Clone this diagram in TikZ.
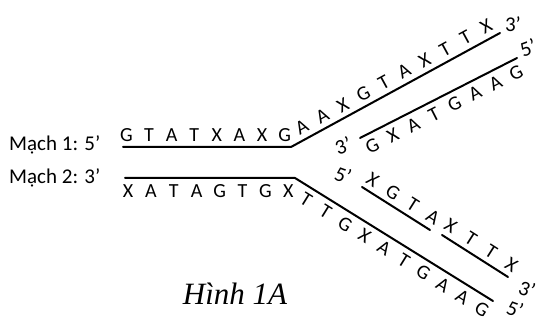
\documentclass[tikz,border=0pt]{standalone}
\usepackage{fontspec}
\setmainfont{Carlito}
\newfontfamily\titlefont{Liberation Serif}
\begin{document}
\begin{tikzpicture}[x=1pt, y=-1pt, strand/.style={line width=2pt, line cap=round, line join=round},
    base/.style={inner sep=0pt, text height=12.9pt, text depth=0pt, font=\fontsize{20}{24}\selectfont},
    tag/.style={inner sep=0pt, font=\fontsize{21}{24}\selectfont}]

    \useasboundingbox (0,0) rectangle (536,320);

    % strand ends and corners
    \coordinate (s1a) at (123,147);
    \coordinate (s1b) at (291,147);
    \coordinate (s1c) at (500,33);
    \coordinate (s2a) at (125,178);
    \coordinate (s2b) at (295,178);
    \coordinate (s2c) at (493,301);
    \coordinate (c1a) at (360,138);
    \coordinate (c1b) at (517,58);
    \coordinate (c2a) at (362,187);
    \coordinate (c2b) at (430,230);
    \coordinate (c2c) at (442,235);
    \coordinate (c2d) at (508,277);

    \draw[strand] (s1a) -- (s1b) -- (s1c);
    \draw[strand] (s2a) -- (s2b) -- (s2c);
    \draw[strand] (c1a) -- (c1b);
    \draw[strand] (c2a) -- (c2b);
    \draw[strand] (c2c) -- (c2d);

    % bases
    \foreach \b [count=\i] in {G,T,A,T,X,A,X,G}
        \path (s1a) -- (s1b) node[base, sloped, above=5.5pt, pos={(3.5+(\i-1)*22.6)/168}] {\b};
    \foreach \b [count=\i] in {A,A,X,G,T,A,X,T,T,X}
        \path (s1b) -- (s1c) node[base, sloped, above=5.5pt, pos={(19.1+(\i-1)*23.3)/238.1}] {\b};
    \foreach \b [count=\i] in {G,X,A,T,G,A,A,G}
        \path (c1a) -- (c1b) node[base, sloped, below=6pt, pos={(7.4+(\i-1)*23)/175.9}] {\b};
    \foreach \b [count=\i] in {X,A,T,A,G,T,G,X}
        \path (s2a) -- (s2b) node[base, sloped, below=6pt, pos={(3+(\i-1)*22.9)/170}] {\b};
    \foreach \b [count=\i] in {T,T,G,X,A,T,G,A,A,G}
        \path (s2b) -- (s2c) node[base, sloped, below=6pt, pos={(21+(\i-1)*23)/233.1}] {\b};
    \foreach \b [count=\i] in {X,G,T,A}
        \path (c2a) -- (c2b) node[base, sloped, above=5.5pt, pos={(5+(\i-1)*23.8)/80.5}] {\b};
    \foreach \b [count=\i] in {X,T,T,X}
        \path (c2c) -- (c2d) node[base, sloped, above=5.5pt, pos={(2.5+(\i-1)*24)/78.2}] {\b};

    % strand labels
    \node[tag, anchor=base west] (mach1) at (9,151) {Mạch 1: 5’};
    \node[tag, anchor=base west] (mach2) at (9,184) {Mạch 2: 3’};
    \node[tag] (e1) at (513,24) {3’};
    \node[tag, rotate=20] (e2) at (528,48) {5’};
    \node[tag, rotate=20] (e3) at (343,146) {3’};
    \node[tag, rotate=-20] (e4) at (343,175) {5’};
    \node[tag, rotate=-20] (e5) at (527,289) {3’};
    \node[tag, rotate=-20] (e6) at (515,309) {5’};

    \node[anchor=base, inner sep=0pt, font=\titlefont\itshape\fontsize{31}{36}\selectfont] (title) at (235,305) {Hình 1A};
\end{tikzpicture}
\end{document}
